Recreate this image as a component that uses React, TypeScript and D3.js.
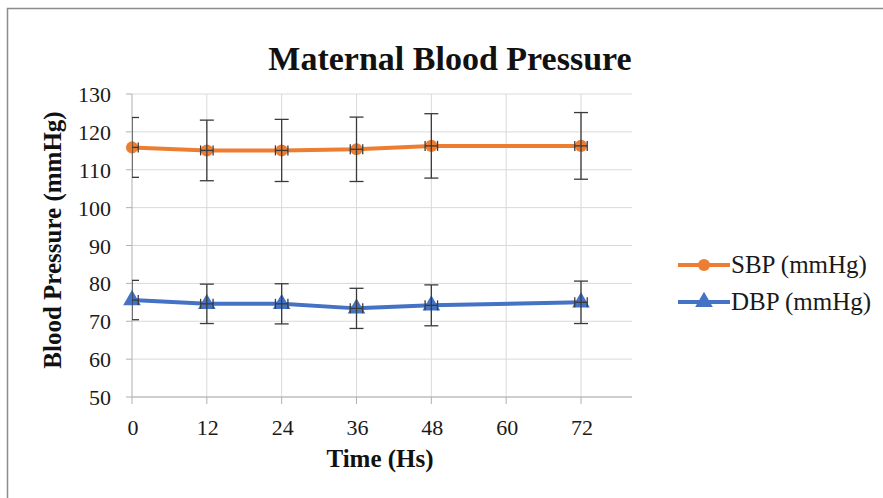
import React, { useRef, useEffect } from "react";
import * as d3 from "d3";

const hours = [0, 12, 24, 36, 48, 72];
const xTicks = [0, 12, 24, 36, 48, 60, 72];
const yTicks = [50, 60, 70, 80, 90, 100, 110, 120, 130];
const sbp = [115.9, 115.1, 115.1, 115.4, 116.3, 116.3];
const sbpSd = [7.9, 8.0, 8.2, 8.5, 8.5, 8.8];
const dbp = [75.6, 74.6, 74.6, 73.4, 74.2, 75.0];
const dbpSd = [5.2, 5.2, 5.3, 5.3, 5.4, 5.6];
const xErr = 1; // small horizontal error bars (hours)

const W = 883;
const H = 498;

function App() {
  const svgRef = useRef<SVGSVGElement>(null);

  useEffect(() => {
    const svg = d3.select(svgRef.current);
    svg.selectAll("*").remove();

    const left = 132;
    const right = 632;
    const top = 94;
    const bottom = 397;

    // 72 sits at ~581px, plot keeps going to ~632
    const x = d3.scaleLinear().domain([0, 72]).range([left, 581]);
    const y = d3.scaleLinear().domain([50, 130]).range([bottom, top]);

    const font = "'Liberation Serif', 'Times New Roman', serif";

    // chart border
    svg
      .append("rect")
      .attr("x", 7.5)
      .attr("y", 8.5)
      .attr("width", W)
      .attr("height", H)
      .attr("fill", "white")
      .attr("stroke", "#8c8c8c")
      .attr("stroke-width", 1.5);

    // gridlines
    const grid = svg.append("g").attr("stroke", "#d9d9d9").attr("stroke-width", 1);
    grid
      .selectAll("line.h")
      .data(yTicks)
      .join("line")
      .attr("x1", left)
      .attr("x2", right)
      .attr("y1", (d) => y(d))
      .attr("y2", (d) => y(d));
    grid
      .append("g")
      .selectAll("line")
      .data(xTicks.slice(1))
      .join("line")
      .attr("x1", (d) => x(d))
      .attr("x2", (d) => x(d))
      .attr("y1", top)
      .attr("y2", bottom);

    // axes
    const axisG = svg.append("g").attr("stroke", "#b0b0b0").attr("stroke-width", 1);
    axisG.append("line").attr("x1", left).attr("x2", right).attr("y1", bottom).attr("y2", bottom);
    axisG.append("line").attr("x1", left).attr("x2", left).attr("y1", top).attr("y2", bottom);
    axisG
      .append("g")
      .selectAll("line")
      .data(yTicks)
      .join("line")
      .attr("x1", left - 6)
      .attr("x2", left)
      .attr("y1", (d) => y(d))
      .attr("y2", (d) => y(d));
    axisG
      .append("g")
      .selectAll("line")
      .data(xTicks)
      .join("line")
      .attr("x1", (d) => x(d))
      .attr("x2", (d) => x(d))
      .attr("y1", bottom)
      .attr("y2", bottom + 7);

    // tick labels
    svg
      .append("g")
      .attr("font-family", font)
      .attr("font-size", 22)
      .attr("fill", "#1a1a1a")
      .attr("text-anchor", "end")
      .selectAll("text")
      .data(yTicks)
      .join("text")
      .attr("x", left - 21)
      .attr("y", (d) => y(d) + 8)
      .text((d) => d);
    svg
      .append("g")
      .attr("font-family", font)
      .attr("font-size", 22)
      .attr("fill", "#1a1a1a")
      .attr("text-anchor", "middle")
      .selectAll("text")
      .data(xTicks)
      .join("text")
      .attr("x", (d) => x(d) + 1)
      .attr("y", bottom + 38)
      .text((d) => d);

    // titles
    svg
      .append("text")
      .attr("x", 450)
      .attr("y", 70)
      .attr("text-anchor", "middle")
      .attr("font-family", font)
      .attr("font-weight", "bold")
      .attr("font-size", 34)
      .attr("fill", "#111")
      .text("Maternal Blood Pressure");
    svg
      .append("text")
      .attr("x", 380)
      .attr("y", 467)
      .attr("text-anchor", "middle")
      .attr("font-family", font)
      .attr("font-weight", "bold")
      .attr("font-size", 25)
      .attr("fill", "#111")
      .text("Time (Hs)");
    svg
      .append("text")
      .attr("transform", `translate(61,${(top + 370) / 2 + 8}) rotate(-90)`)
      .attr("text-anchor", "middle")
      .attr("font-family", font)
      .attr("font-weight", "bold")
      .attr("font-size", 25)
      .attr("fill", "#111")
      .text("Blood Pressure (mmHg)");

    // clip for error bars
    svg
      .append("clipPath")
      .attr("id", "plotclip")
      .append("rect")
      .attr("x", left)
      .attr("y", 0)
      .attr("width", right - left)
      .attr("height", H);

    const series = [
      { name: "SBP (mmHg)", values: sbp, sd: sbpSd, color: "#ED7D31", marker: "circle" },
      { name: "DBP (mmHg)", values: dbp, sd: dbpSd, color: "#4472C4", marker: "triangle" },
    ];

    const line = d3
      .line<number>()
      .x((d, i) => x(hours[i]))
      .y((d) => y(d));

    const symFor = (m: string) =>
      d3
        .symbol()
        .type(m === "circle" ? d3.symbolCircle : d3.symbolTriangle)
        .size(m === "circle" ? 115 : 135);

    series.forEach((s) => {
      const pts = s.values.map((v, i) => ({ h: hours[i], v, sd: s.sd[i] }));

      svg
        .append("path")
        .datum(s.values)
        .attr("d", line)
        .attr("fill", "none")
        .attr("stroke", s.color)
        .attr("stroke-width", 4);

      svg
        .append("g")
        .selectAll("path")
        .data(pts)
        .join("path")
        .attr("transform", (d) => `translate(${x(d.h)},${y(d.v)})`)
        .attr("d", symFor(s.marker))
        .attr("fill", s.color);

      const eb = svg
        .append("g")
        .attr("clip-path", "url(#plotclip)")
        .attr("stroke", "#3a3a3a")
        .attr("stroke-width", 1.3)
        .attr("fill", "none");
      const g = eb.selectAll("g").data(pts).join("g");
      g.append("line")
        .attr("x1", (d) => x(d.h))
        .attr("x2", (d) => x(d.h))
        .attr("y1", (d) => y(d.v + d.sd))
        .attr("y2", (d) => y(d.v - d.sd));
      g.append("line")
        .attr("x1", (d) => x(d.h) - 7)
        .attr("x2", (d) => x(d.h) + 7)
        .attr("y1", (d) => y(d.v + d.sd))
        .attr("y2", (d) => y(d.v + d.sd));
      g.append("line")
        .attr("x1", (d) => x(d.h) - 7)
        .attr("x2", (d) => x(d.h) + 7)
        .attr("y1", (d) => y(d.v - d.sd))
        .attr("y2", (d) => y(d.v - d.sd));
      // horizontal error bars
      g.append("line")
        .attr("x1", (d) => x(d.h - xErr))
        .attr("x2", (d) => x(d.h + xErr))
        .attr("y1", (d) => y(d.v))
        .attr("y2", (d) => y(d.v));
      g.append("line")
        .attr("x1", (d) => x(d.h - xErr))
        .attr("x2", (d) => x(d.h - xErr))
        .attr("y1", (d) => y(d.v) - 5)
        .attr("y2", (d) => y(d.v) + 5);
      g.append("line")
        .attr("x1", (d) => x(d.h + xErr))
        .attr("x2", (d) => x(d.h + xErr))
        .attr("y1", (d) => y(d.v) - 5)
        .attr("y2", (d) => y(d.v) + 5);
    });

    // legend
    const legend = svg.append("g");
    series.forEach((s, i) => {
      const ly = 265 + i * 37;
      legend
        .append("line")
        .attr("x1", 678)
        .attr("x2", 730)
        .attr("y1", ly)
        .attr("y2", ly)
        .attr("stroke", s.color)
        .attr("stroke-width", 4);
      legend
        .append("path")
        .attr("transform", `translate(704,${ly})`)
        .attr("d", symFor(s.marker))
        .attr("fill", s.color);
      legend
        .append("text")
        .attr("x", 731)
        .attr("y", ly + 8)
        .attr("font-family", font)
        .attr("font-size", 25)
        .attr("fill", "#1a1a1a")
        .text(s.name);
    });
  }, []);

  return (
    <svg
      ref={svgRef}
      width={W}
      height={H}
      style={{ position: "absolute", left: 0, top: 0, background: "white" }}
    ></svg>
  );
}

export default App;
